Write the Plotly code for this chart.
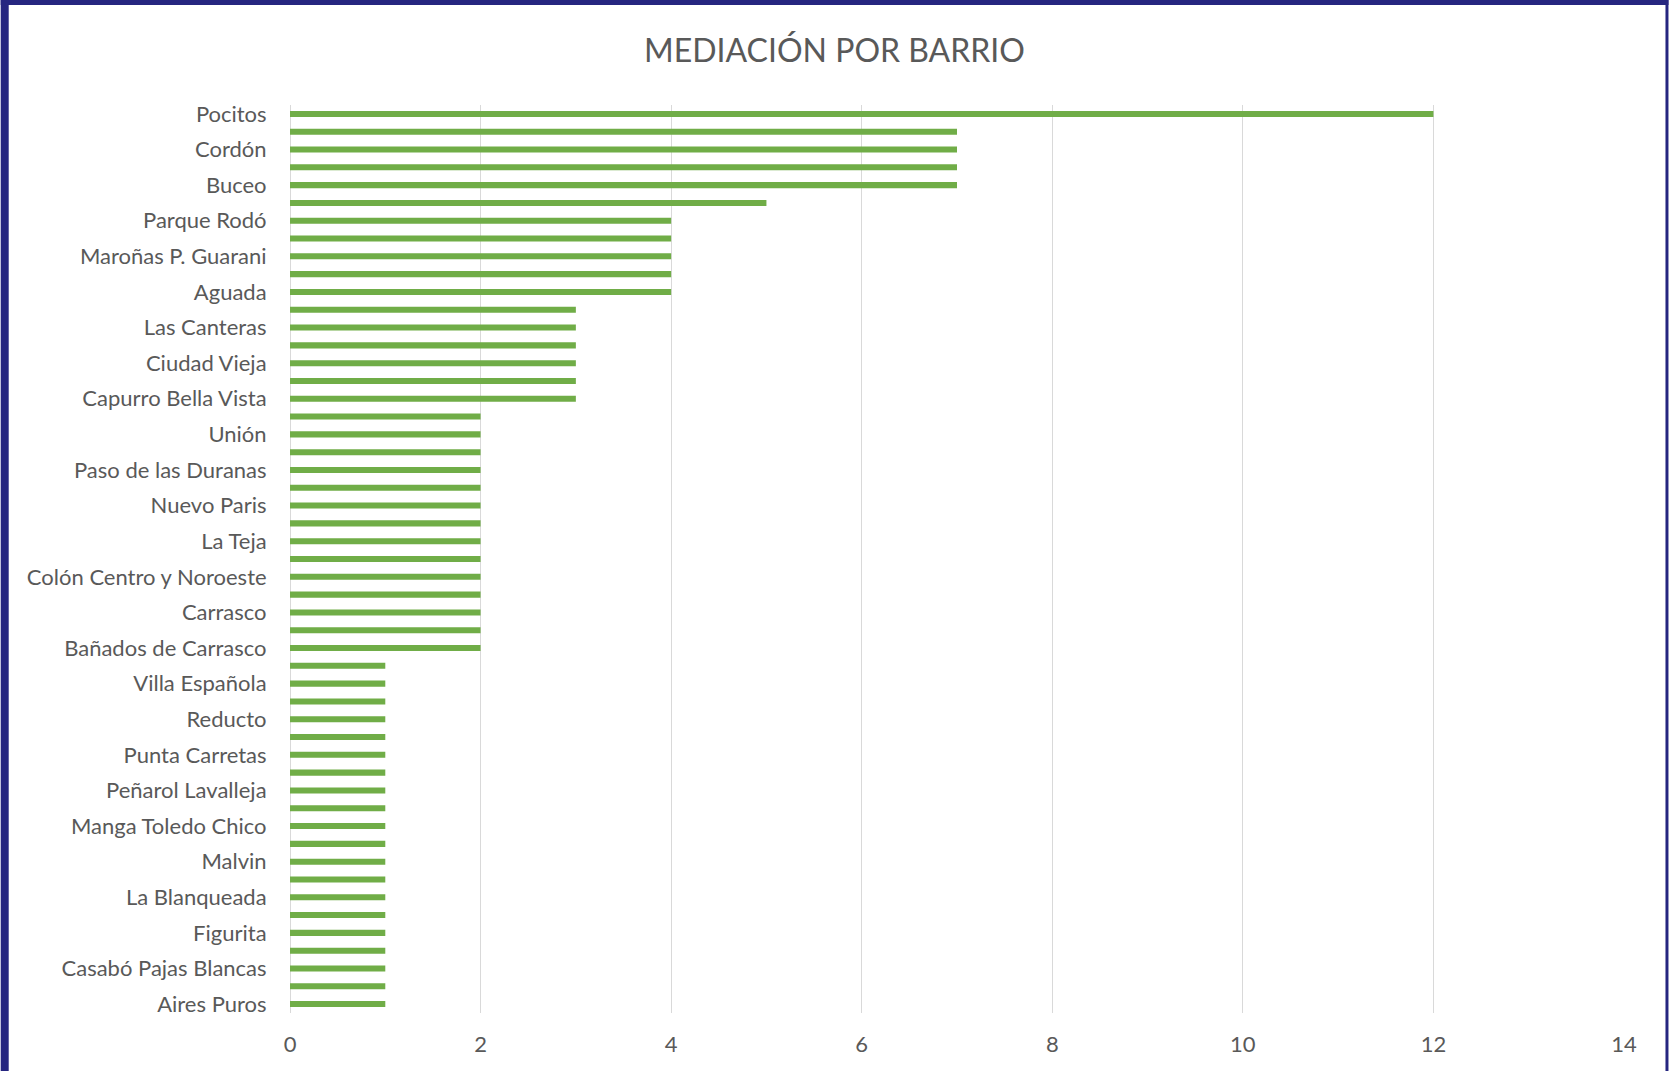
import plotly.graph_objects as go

# barrios shown on the axis (every other bar carries a label in the original)
shown_labels = [
    "Pocitos", "Cordón", "Buceo", "Parque Rodó", "Maroñas P. Guarani", "Aguada",
    "Las Canteras", "Ciudad Vieja", "Capurro Bella Vista", "Unión",
    "Paso de las Duranas", "Nuevo Paris", "La Teja", "Colón Centro y Noroeste",
    "Carrasco", "Bañados de Carrasco", "Villa Española", "Reducto",
    "Punta Carretas", "Peñarol Lavalleja", "Manga Toledo Chico", "Malvin",
    "La Blanqueada", "Figurita", "Casabó Pajas Blancas", "Aires Puros",
]

# mediaciones per bar, top to bottom
values = [
    12, 7, 7, 7, 7, 5, 4, 4, 4, 4, 4,
    3, 3, 3, 3, 3, 3,
    2, 2, 2, 2, 2, 2, 2, 2, 2, 2, 2, 2, 2, 2,
    1, 1, 1, 1, 1, 1, 1, 1, 1, 1, 1, 1, 1, 1, 1, 1, 1, 1, 1, 1,
]

positions = list(range(len(values)))
tick_pos = positions[::2]

W, H = 1669, 1071
left, right, top, bottom = 289.5, 44.5, 105, 58
pw, ph = W - left - right, H - top - bottom
NAVY = "#262680"
GREY = "#595959"


def px_x(p):
    return (p - left) / pw


def px_y(p):
    return 1 - (p - top) / ph


fig = go.Figure(go.Bar(
    x=values,
    y=positions,
    orientation="h",
    width=0.34,
    marker=dict(color="#70AD47", line=dict(width=0)),
    hoverinfo="x",
))

# navy frame around the chart (top, left, right)
for x0, y0, x1, y1 in [(0, 0, W, 5), (0, 0, 8, H), (1666, 0, W, H)]:
    fig.add_shape(type="rect", xref="paper", yref="paper",
                  x0=px_x(x0), x1=px_x(x1), y0=px_y(y0), y1=px_y(y1),
                  fillcolor=NAVY, line_width=0, layer="above")

fig.update_layout(
    width=W,
    height=H,
    margin=dict(l=left, r=right, t=top, b=bottom, pad=0),
    paper_bgcolor="white",
    plot_bgcolor="white",
    showlegend=False,
    font=dict(family="Lato, 'Open Sans', sans-serif", color=GREY, size=22),
    title=dict(
        text="MEDIACIÓN POR BARRIO",
        x=0.5, xref="container", xanchor="center",
        y=1 - 51 / H, yref="container", yanchor="middle",
        font=dict(size=32, color=GREY),
    ),
)

fig.update_xaxes(
    range=[0, 14],
    tickvals=[0, 2, 4, 6, 8, 10, 12, 14],
    showgrid=True, gridcolor="#d9d9d9", gridwidth=1,
    zeroline=True, zerolinecolor="#d9d9d9", zerolinewidth=1,
    showline=False,
    ticks="outside", ticklen=12, tickcolor="rgba(0,0,0,0)",
    tickfont=dict(size=22, color=GREY),
    automargin=False,
    fixedrange=True,
)
fig.update_yaxes(
    range=[len(values) - 0.5, -0.5],
    tickvals=tick_pos,
    ticktext=shown_labels,
    showgrid=False, zeroline=False, showline=False,
    ticks="outside", ticklen=18, tickcolor="rgba(0,0,0,0)",
    tickfont=dict(size=22, color=GREY),
    automargin=False,
    fixedrange=True,
)

fig.write_html("out.html", config={"displayModeBar": False},
               post_script="document.body.style.margin='0';")
